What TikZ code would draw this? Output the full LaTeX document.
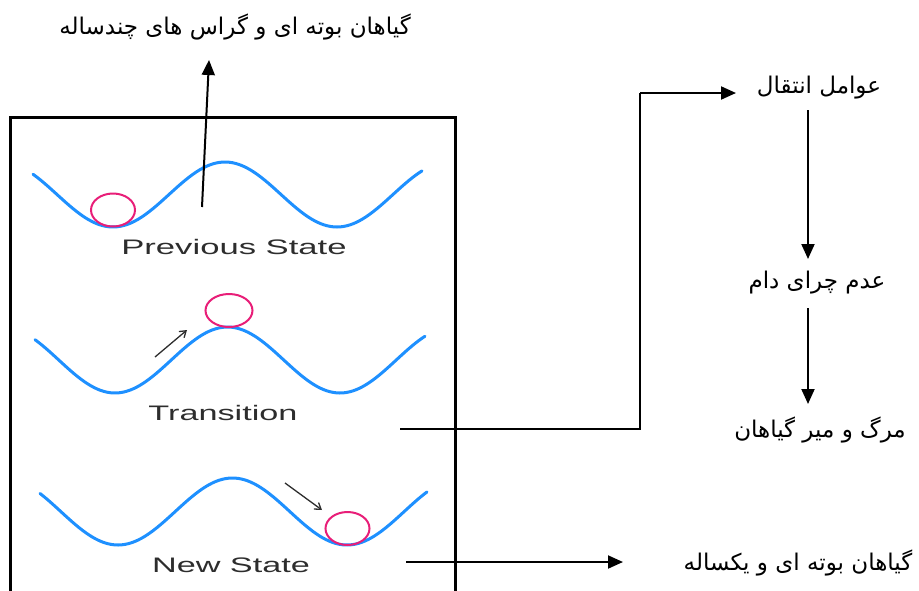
\documentclass[tikz,border=0pt]{standalone}
\usepackage{fontspec}
\setmainfont{Liberation Sans}
\newfontfamily\arabicfont[Script=Arabic]{DejaVu Sans}
\TeXXeTstate=1
\usetikzlibrary{arrows.meta}
\definecolor{waveblue}{RGB}{30,144,255}
\definecolor{ballpink}{RGB}{232,30,120}
\definecolor{labelgray}{RGB}{45,45,45}
\tikzset{
  wave/.style={draw=waveblue, line width=3pt, line cap=round},
  ball/.style={draw=ballpink, line width=2pt},
  conn/.style={draw=black, line width=2pt, -{Triangle[length=15pt,width=13pt]}},
  plainline/.style={draw=black, line width=2pt},
  frame/.style={draw=black, line width=3pt},
  small/.style={draw=labelgray, line width=1.3pt, -{Straight Barb[length=6pt,width=8pt]}},
  fa/.style={font=\arabicfont\fontsize{23}{26}\selectfont, inner sep=0pt},
  en/.style={font=\fontsize{21}{24}\selectfont, text=labelgray, inner sep=0pt},
}
\begin{document}
\begin{tikzpicture}[x=1pt,y=-1pt]
\useasboundingbox (0,0) rectangle (919,590);
% frame (bottom runs off the picture)
\draw[frame] (10,592) -- (10,117) -- (455,117) -- (455,592);
% waves
\draw[wave] plot[domain=33:422, samples=120, smooth] (\x, {194.5+32.5*cos(1.60714*(\x-113))});
\draw[wave] plot[domain=35:425, samples=120, smooth] (\x, {360+33*cos(1.6*(\x-115))});
\draw[wave] plot[domain=40:427, samples=120, smooth] (\x, {511.5+33.5*cos(1.572*(\x-118))});
% balls
\draw[ball] (113,210) ellipse [x radius=22, y radius=16.5];
\draw[ball] (229,310.5) ellipse [x radius=23.5, y radius=16.5];
\draw[ball] (347.5,528.5) ellipse [x radius=22, y radius=16.5];
% small arrows
\coordinate (ta1) at (155,357); \coordinate (ta2) at (187,330);
\draw[small] (ta1) -- (ta2);
\coordinate (na1) at (285,483); \coordinate (na2) at (322,510);
\draw[small] (na1) -- (na2);
% state labels
\node[en] (prev) at (234,247) {\scalebox{1.65}[1]{Previous State}};
\node[en] (trans) at (223,413) {\scalebox{1.63}[1]{Transition}};
\node[en] (new) at (231,565) {\scalebox{1.63}[1]{New State}};
% Persian labels
\node[fa] (top) at (235,27) {\beginR گیاهان بوته ای و گراس های چندساله\endR};
\node[fa] (f1) at (819,88) {\beginR عوامل انتقال\endR};
\node[fa] (f2) at (817,283) {\beginR عدم چرای دام\endR};
\node[fa] (f3) at (820,430) {\beginR مرگ و میر گیاهان\endR};
\node[fa] (f4) at (798,563) {\beginR گیاهان بوته ای و یکساله\endR};
% connectors
\coordinate (up0) at (202,207); \coordinate (up1) at (209,60);
\draw[conn] (up0) -- (up1);
\coordinate (tr0) at (400,429); \coordinate (corner1) at (640,429);
\coordinate (corner2) at (640,93); \coordinate (tr1) at (736,93);
\draw[plainline] (tr0) -- (corner1) -- (corner2);
\draw[conn] (corner2) -- (tr1);
\coordinate (v1a) at (808,110); \coordinate (v1b) at (808,259);
\draw[conn] (v1a) -- (v1b);
\coordinate (v2a) at (808,308); \coordinate (v2b) at (808,404);
\draw[conn] (v2a) -- (v2b);
\coordinate (ns0) at (406,562); \coordinate (ns1) at (623,562);
\draw[conn] (ns0) -- (ns1);
\end{tikzpicture}
\end{document}
